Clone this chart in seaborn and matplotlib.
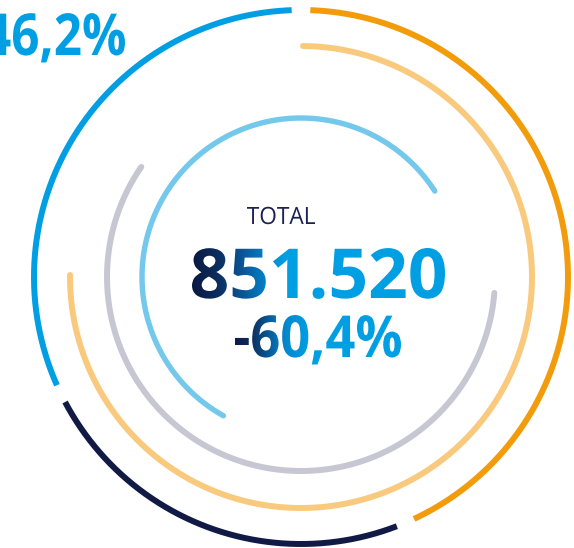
import numpy as np
import pandas as pd
import matplotlib
matplotlib.use("Agg")
import matplotlib.pyplot as plt
import seaborn as sns
from matplotlib.textpath import TextPath
from matplotlib.font_manager import FontProperties
from matplotlib.patches import PathPatch
from matplotlib.colors import LinearSegmentedColormap
from matplotlib.transforms import Affine2D

# outer ring: three segments, share of the full circle (%)
outer_names = ["orange", "navy", "blue"]
outer_share = [43.6, 24.2, 32.2]

# inner rings: one arc each, share of the circle covered (%)
inner_names = ["light_orange", "gray", "light_blue"]
inner_share = [75.0, 58.3, 57.8]

total_label = "TOTAL"
total_value = "851.520"
total_change = "-60,4%"
corner_value = "46,2%"

# layout (pixel space, y down)
W, H = 574, 548
CX, CY = 301, 277
R_OUTER = 267
GAP = 4.0
inner_radius = {"light_orange": 231, "gray": 194, "light_blue": 159}
inner_start = {"light_orange": 0.5, "gray": 94.7, "light_blue": 209.2}

colors = {
    "orange": "#F39C0B",
    "navy": "#111A45",
    "blue": "#009FE3",
    "light_orange": "#F9CA7D",
    "gray": "#C6C7D2",
    "light_blue": "#74C8EC",
}
NAVY_TXT = "#1C2250"
BLUE = "#009FE3"


def arc_frame(name, r, a0, a1):
    t = np.radians(np.linspace(a0, a1, 400))
    return pd.DataFrame({"x": CX + r * np.sin(t), "y": CY - r * np.cos(t), "arc": name})


def place_text(s, font, cap_h, baseline, x_left=None, x_right=None,
               width=None, sx=None, cap_char="0"):
    path = TextPath((0, 0), s, size=100, prop=font)
    ext = path.get_extents()
    cap = TextPath((0, 0), cap_char, size=100, prop=font).get_extents()
    sy = cap_h / cap.y1
    if sx is None:
        sx = width / ext.width
    if x_left is None:
        x_left = x_right - ext.width * sx
    tr = Affine2D().translate(-ext.x0, 0).scale(sx, -sy).translate(x_left, baseline)
    return tr.transform_path(path), sx, (x_left, x_left + ext.width * sx)


def gradient_fill(ax, path, xr, ytop, ybase, cmap):
    patch = PathPatch(path, fc="none", ec="none")
    ax.add_patch(patch)
    im = ax.imshow(np.linspace(0, 1, 512)[None, :], cmap=cmap, aspect="auto",
                   extent=(xr[0], xr[1], ybase + 15, ytop - 5),
                   interpolation="bilinear")
    im.set_clip_path(patch)


sns.set_theme(style="white")
fig = plt.figure(figsize=(W / 100, H / 100), dpi=100)
ax = fig.add_axes([0, 0, 1, 1])

# outer ring segments
frames = []
start = 0.0
for name, share in zip(outer_names, outer_share):
    span = share / 100 * 360
    frames.append(arc_frame(name, R_OUTER, start + GAP / 2, start + span - GAP / 2))
    start += span
for name, share in zip(inner_names, inner_share):
    a0 = inner_start[name]
    frames.append(arc_frame(name, inner_radius[name], a0, a0 + share / 100 * 360))

arcs = pd.concat(frames, ignore_index=True)
for name, df in arcs.groupby("arc", sort=False):
    inner = name in inner_names
    sns.lineplot(data=df, x="x", y="y", color=colors[name], sort=False,
                 estimator=None, lw=4.3 if name != "light_blue" else 3.9,
                 solid_capstyle="round" if inner else "butt", ax=ax)

bold = FontProperties(family="Open Sans", weight="bold")
light = FontProperties(family="Open Sans", weight="normal")

# TOTAL
p, _, xr = place_text(total_label, light, 17, 224, x_left=247, width=68, cap_char="T")
ax.add_patch(PathPatch(p, fc=NAVY_TXT, ec="none"))

# big value with gradient
cmap_val = LinearSegmentedColormap.from_list(
    "val", [(0, "#0A1842"), (0.1, "#0C2D5E"), (0.2, "#0A5697"),
            (0.3, "#0386CD"), (0.37, BLUE), (1, BLUE)])
p, _, xr = place_text(total_value, bold, 50, 298, x_left=192, width=253)
gradient_fill(ax, p, xr, 248, 298, cmap_val)

cmap_chg = LinearSegmentedColormap.from_list(
    "chg", [(0, "#0B1C48"), (0.08, "#0C2A5A"), (0.14, "#0C3E74"),
            (0.26, "#0774BA"), (0.31, "#0389CF"), (0.45, BLUE), (1, BLUE)])
p, sx_chg, xr = place_text(total_change, bold, 42, 357, x_left=235, width=166)
gradient_fill(ax, p, xr, 315, 357, cmap_chg)

# corner value, partly cut off at the left edge
_, sx_corner, _ = place_text(corner_value[1:], bold, 42, 55, x_left=13, width=112)
p, _, xr = place_text(corner_value, bold, 42, 55, x_right=125, sx=sx_corner)
ax.add_patch(PathPatch(p, fc=BLUE, ec="none"))

ax.set_xlim(0, W)
ax.set_ylim(H, 0)
ax.set_axis_off()
fig.savefig("out.png", dpi=100)
